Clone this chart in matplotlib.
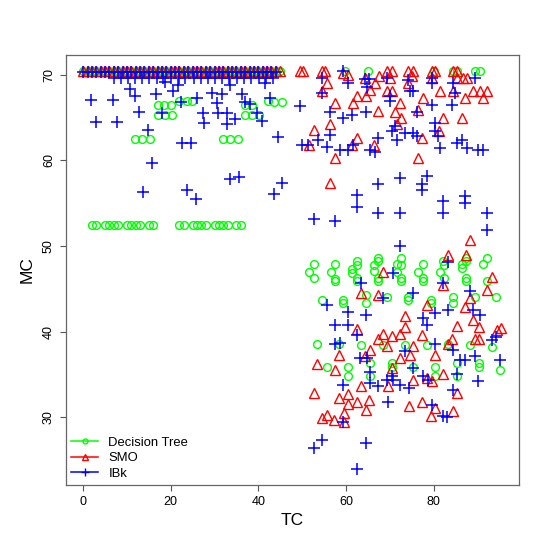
import matplotlib
matplotlib.use('Agg')
import matplotlib.pyplot as plt
from matplotlib.lines import Line2D

plt.rcParams['font.family'] = ['Liberation Sans', 'DejaVu Sans']

# Decision Tree (green circles)
dt_tc = [0, 1, 2, 3, 4, 5, 6, 7, 8, 9, 10, 11, 12, 13, 14, 15, 16, 17, 18, 19, 20, 21, 22,
         23, 24, 25, 26, 27, 28, 29, 30, 31, 32, 33, 34, 35, 36, 37, 38, 39, 40, 41, 42, 43, 44, 45,
         2, 3, 5, 6, 7, 8, 10, 11, 12, 13, 15, 16, 22, 23, 25, 26, 27, 28, 30, 31, 32, 33, 35, 36,
         17, 18.5, 20, 22, 23.7, 24.8, 37, 38.5, 42.3, 43.5, 45.3,
         17.2, 18.7, 20.2, 37, 38.5, 40.2,
         11.8, 13.4, 15.3, 32, 33.5, 35.3,
         59.8, 65.1, 80, 84.5, 85.3, 89.5, 90.5,
         52.6, 51.6, 52.6, 57.5, 56.5, 57.5, 57.5, 62.5, 62.5, 61.3, 61.3, 62.5, 62.5,
         67.4, 67.4, 66.5, 66.3, 67.4, 67.4, 71.6, 72.5, 72.5, 71.6, 72.5, 72.5,
         77.5, 76.5, 77.5, 77.5, 82.2, 82.4, 81.5, 82.4, 86.4, 86.4, 87.4, 87.4, 87.4, 87.4,
         91.4, 92.3, 92.3,
         54.5, 59.4, 59.4, 64.6, 64.6, 69.3, 74.2, 74.2, 79.4, 79.4, 84.4, 84.4, 89.5, 94.3,
         53.5, 58.5, 63.4, 68.4, 73.5, 78.4, 83.4, 88.3, 93.3,
         55.6, 60.5, 60.5, 65.5, 65.5, 70.5, 70.5, 75.4, 80.3, 80.3, 85.3, 85.3, 90.4, 90.4, 95.2]
dt_mc = [70.4] * 46 + [52.5] * 24 + \
        [66.5, 66.5, 66.5, 66.9, 66.9, 66.9, 66.5, 66.5, 66.9, 66.8, 66.8] + \
        [65.3] * 6 + [62.5] * 6 + [70.4] * 7 + \
        [47.9, 47.0, 46.3, 47.9, 47.0, 46.2, 45.9, 48.2, 47.8, 47.3, 46.9, 46.3, 45.9,
         48.6, 48.2, 47.8, 47.1, 46.3, 45.9, 47.9, 48.6, 47.8, 47.0, 46.3, 45.9,
         47.9, 47.0, 46.3, 45.9, 48.2, 47.8, 47.0, 46.3, 47.9, 47.4, 48.6, 48.2, 46.3, 45.9,
         47.9, 48.6, 45.9,
         43.7, 43.7, 43.3, 44.3, 43.3, 44.1, 44.1, 43.7, 43.7, 43.3, 44.1, 43.3, 44.1, 44.1,
         38.5, 38.5, 38.4, 38.4, 38.4, 38.4, 38.5, 38.4, 38.2,
         35.9, 35.9, 34.8, 36.3, 34.8, 36.3, 35.9, 35.9, 35.9, 34.8, 36.3, 34.8, 36.3, 35.9, 35.5]

# SMO (red triangles)
smo_tc = [0, 1, 2, 3, 4, 5, 6, 7, 8, 9, 10, 11, 12, 13, 14, 15, 16, 17, 18, 19, 20, 21, 22,
          23, 24, 25, 26, 27, 28, 29, 30, 31, 32, 33, 34, 35, 36, 37, 38, 39, 40, 41, 42, 43, 44, 45,
          49.5, 50.3, 54.5, 55.2, 59.4, 60.5, 69.3, 70.5, 74.2, 75.4, 79.6, 80.3, 84.5, 85.3,
          55.6, 54.5, 57.5, 56.4, 52.6, 51.6, 57.5, 56.4, 61.6, 62.5, 64.6, 65.5, 66.6, 67.6,
          64.4, 62.5, 61.3, 66.5, 67.4, 69.3, 70.5, 71.2, 72.4, 72.5, 71.6, 70.1, 74.2, 75.0,
          76.4, 77.5, 76.5, 77.3, 79.6, 81.5, 82.2, 81.3, 84.5, 86.4, 87.2, 85.3, 86.8, 87.6,
          89.1, 90.6, 92.1, 91.2, 88.3,
          83.4, 87.4, 68.4, 82.2, 93.3, 92.3, 63.4, 67.4, 78.4, 87.2, 88.3, 73.5, 85.3, 89.1,
          90.4, 62.5, 73.5, 94.4, 95.3, 67.4, 68.5, 70.5, 72.4, 77.3, 84.2, 89.5, 90.4, 69.3,
          75.4, 83.2, 65.5, 58.5, 64.4, 74.6, 80.3, 53.5, 57.5, 70.5, 72.4, 75.4, 78.4, 79.6,
          82.2, 85.3, 63.4, 69.5, 52.6, 58.5, 60.5, 60.5, 62.5, 65.3, 64.6, 77.3, 74.5, 80.3,
          84.4, 79.4, 59.6, 55.6, 54.5, 57.3, 59.6]
smo_mc = [70.4] * 46 + [70.4] * 4 + [70.2, 70.0] + [70.4] * 8 + \
         [69.0, 68.1, 66.7, 64.2, 63.5, 61.8, 60.3, 57.4, 66.7, 67.5, 67.5, 68.2, 69.0, 69.8,
          69.6, 62.6, 61.8, 61.8, 65.8, 68.1, 68.1, 65.7, 66.7, 64.9, 64.2, 69.6, 69.0, 69.8,
          65.9, 67.3, 60.3, 62.6, 69.6, 68.1, 64.9, 63.4, 68.1, 64.9, 67.3, 69.6, 69.6, 69.6,
          68.1, 68.1, 68.1, 67.3, 50.7,
          49.0, 49.0, 47.0, 45.5, 46.4, 44.9, 44.5, 44.3, 43.1, 42.9, 43.9, 41.8, 40.7, 41.4,
          40.5, 40.3, 40.5, 40.2, 40.4, 39.2, 39.7, 39.5, 39.7, 39.6, 39.2, 39.2, 39.2, 38.3,
          38.3, 38.5, 37.9, 37.3, 37.1, 37.3, 37.3, 36.2, 35.5, 35.7, 36.9, 34.4, 34.6, 34.2,
          35.0, 32.8, 33.6, 33.6, 32.8, 32.2, 32.7, 31.6, 31.8, 32.0, 30.9, 31.8, 31.3, 31.1,
          30.7, 30.1, 30.5, 30.3, 29.9, 29.7, 29.5]

# IBk (blue crosses)
ibk_tc = [0, 1, 2, 3, 4, 5, 6, 7, 8, 9, 10, 11, 12, 13, 14, 15, 16, 17, 18, 19, 20, 21, 22,
          23, 24, 25, 26, 27, 28, 29, 30, 31, 32, 33, 34, 35, 36, 37, 38, 39, 40, 41, 42, 43, 44,
          7, 8.6, 10.2, 11.9, 13.4, 15.1, 16.8, 18.3, 20.1, 21.8, 23.3, 25.2, 26.9, 28.4, 30.2,
          31.7, 33.4, 35.1, 36.8, 38.3, 40.1, 41.7, 43.4,
          1.8, 6.9, 2.9, 7.8, 10.7, 11.8, 12.8, 14.7, 15.8, 16.6, 17.9, 18.7, 20.6, 21.7, 22.4,
          22.6, 24.6, 25.9, 27.4, 27.7, 29.4, 30.5, 30.9, 31.6, 32.8, 32.8, 33.5, 34.7, 36.2,
          37.0, 38.1, 39.6, 40.8, 41.5, 42.7, 44.6, 13.7, 23.7, 25.7, 33.5, 35.6, 43.6, 45.5,
          59.4, 54.5, 54.5, 60.5, 64.4, 65.3, 64.9, 69.3, 70.1, 70.1, 74.2, 74.6, 75.4, 79.6,
          79.6, 84.5, 84.9, 89.5, 49.5, 56.4, 59.4, 61.3, 64.6, 56.4, 53.7, 49.9, 51.4, 55.6,
          58.7, 60.5, 61.7, 65.5, 66.6, 67.4, 71.6, 71.2, 70.5, 73.5, 75.4, 76.2, 80.3, 80.3,
          81.1, 81.5, 85.3, 86.4, 87.6, 90.2, 91.4, 76.2, 79.6, 84.2, 72.4, 67.4, 78.4, 77.3,
          77.3, 62.5, 62.5, 52.6, 57.5, 67.4, 72.4, 82.2, 82.2, 87.2, 87.2, 92.3, 92.3, 72.4,
          83.4, 70.8, 82.2, 63.4, 75.4, 68.5, 55.6, 60.5, 64.6, 83.4, 88.3, 89.1, 90.6, 77.7,
          78.4, 80.3, 57.5, 60.5, 62.5, 57.5, 58.7, 63.2, 64.7, 73.5, 80.3, 84.5, 86.1, 87.2,
          89.5, 93.3, 94.3, 95.2, 90.2, 75.4, 70.5, 70.8, 65.5, 65.5, 67.4, 69.3, 72.4, 74.5,
          77.7, 78.8, 59.4, 84.5, 85.3, 69.5, 79.6, 82.2, 83.0, 59.4, 54.5, 52.6, 64.6, 62.5]
ibk_mc = [70.3] * 45 + [69.6] * 23 + \
         [67.0, 67.0, 64.5, 64.5, 68.3, 67.5, 65.6, 63.5, 59.7, 67.7, 65.5, 69.2, 68.1, 68.8, 66.8,
          62.0, 62.0, 67.3, 65.5, 64.4, 67.9, 66.7, 65.5, 67.7, 65.5, 64.2, 68.8, 64.8, 67.7,
          66.8, 66.6, 65.5, 64.6, 69.0, 67.3, 62.7, 56.3, 56.5, 55.5, 57.8, 58.1, 56.1, 57.4,
          70.4, 69.6, 67.9, 69.0, 69.5, 69.5, 68.6, 69.6, 67.5, 66.9, 69.4, 68.1, 68.1, 69.0,
          69.6, 69.0, 67.9, 69.6, 66.3, 65.7, 64.9, 65.3, 65.7, 63.0, 62.4, 61.8, 61.8, 61.6,
          61.2, 61.2, 61.8, 61.2, 61.0, 62.6, 62.4, 64.0, 63.4, 63.2, 63.2, 62.8, 64.4, 63.4,
          62.8, 61.4, 62.0, 62.4, 61.4, 61.2, 61.2, 65.7, 66.5, 66.5, 57.9, 57.2, 58.2, 57.2,
          56.5, 56.0, 54.6, 53.1, 52.9, 53.9, 53.9, 55.2, 53.9, 55.8, 55.0, 53.9, 51.9, 50.0,
          48.1, 46.8, 45.7, 45.7, 44.5, 43.9, 43.1, 42.3, 42.0, 42.5, 44.7, 42.5, 42.0, 41.6,
          40.8, 42.2, 40.8, 40.8, 39.6, 38.5, 38.7, 36.9, 36.9, 37.7, 38.5, 37.9, 36.7, 36.7,
          37.1, 39.0, 39.4, 36.7, 34.2, 35.7, 34.8, 34.4, 35.3, 34.0, 33.6, 34.4, 33.8, 33.4,
          34.8, 34.4, 33.8, 33.2, 35.0, 31.8, 31.4, 30.1, 30.0, 29.5, 27.4, 26.4, 27.0, 24.0]

fig = plt.figure(figsize=(5.4, 5.4), dpi=100)
ax = fig.add_axes([0.1219, 0.102, 0.8391, 0.796])

ax.plot(dt_tc, dt_mc, linestyle='none', marker='o', markersize=5.6,
        markerfacecolor='none', markeredgecolor='#00ff00', markeredgewidth=1.0)
ax.plot(smo_tc, smo_mc, linestyle='none', marker='^', markersize=7.4,
        markerfacecolor='none', markeredgecolor='#ff0000', markeredgewidth=1.0)
ax.plot(ibk_tc, ibk_mc, linestyle='none', marker='+', markersize=8,
        markeredgecolor='#0000ff', markeredgewidth=1.1)

ax.set_xlim(-3.95, 99.5)
ax.set_ylim(22.1, 72.3)
ax.set_xticks([0, 20, 40, 60, 80])
ax.set_yticks([30, 40, 50, 60, 70])
ax.tick_params(direction='out', length=4.3, width=0.8, color='#555555', labelsize=9)
for lab in ax.get_yticklabels():
    lab.set_rotation(90)
    lab.set_va('center')
for sp in ax.spines.values():
    sp.set_color('#666666')
    sp.set_linewidth(0.9)
ax.set_xlabel('TC', fontsize=12.5, labelpad=4)
ax.set_ylabel('MC', fontsize=12.5, labelpad=6)

handles = [Line2D([], [], color='#00ff00', marker='o', markersize=3.5, markerfacecolor='none', lw=1.1),
           Line2D([], [], color='#ff0000', marker='^', markersize=4.5, markerfacecolor='none', lw=1.1),
           Line2D([], [], color='#0000ff', marker='+', markersize=6, lw=1.1)]
ax.legend(handles, ['Decision Tree', 'SMO', 'IBk'], loc='lower left', frameon=False,
          fontsize=9.4, handlelength=2.1, handletextpad=0.75, labelspacing=0.25,
          borderaxespad=0.0, bbox_to_anchor=(0.0, 0.0))

fig.savefig('out.png', dpi=100)
